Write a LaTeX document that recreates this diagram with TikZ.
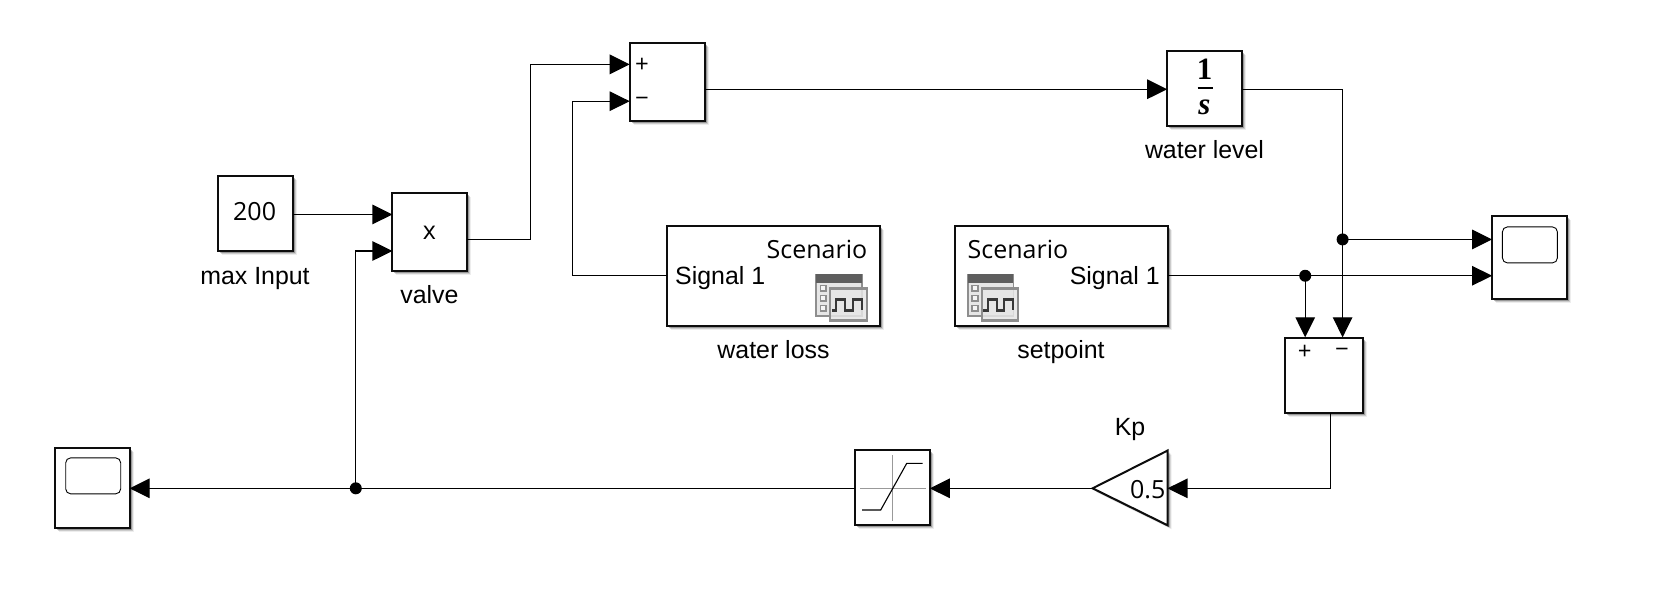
\documentclass[tikz,border=0pt]{standalone}
\usepackage{fontspec}
\newfontfamily\labfont{Liberation Sans}
\newfontfamily\blockfont{Open Sans}
\newfontfamily\intfont{Liberation Serif}
\usetikzlibrary{arrows.meta,shadows,calc}
\definecolor{icondark}{HTML}{5E5E5E}
\definecolor{icongray}{HTML}{8E8E8E}
\definecolor{iconlight}{HTML}{E6E6E6}
\tikzset{
  x=1pt,y=-.998pt,
  softshadow/.style={
    drop shadow={shadow xshift=4pt,shadow yshift=-4pt,fill=black,opacity=.07},
    drop shadow={shadow xshift=3pt,shadow yshift=-3pt,fill=black,opacity=.14},
    drop shadow={shadow xshift=2pt,shadow yshift=-2pt,fill=black,opacity=.25}},
  block/.style={draw=black!95,line width=2pt,fill=white,inner sep=0pt,outer sep=0pt,softshadow,rectangle},
  wire/.style={draw=black,line width=1.2pt},
  sig/.style={wire,-{Triangle[length=20pt,width=19.5pt]}},
  dot/.style={circle,fill=black,inner sep=0pt,minimum size=12pt},
  labeltext/.style={font=\labfont\fontsize{24.9}{30}\selectfont,anchor=base,inner sep=0pt},
  inner/.style={font=\blockfont\fontsize{25}{30}\selectfont,anchor=base,inner sep=0pt},
  sign/.style={font=\blockfont\fontsize{24}{26}\selectfont,inner sep=0pt},
  screen/.style={draw=black,line width=.9pt,rounded corners=5pt,fill=white,inner sep=0pt}
}
\newcommand{\scenarioicon}[2]{%
  \begin{scope}[shift={(#1,#2)},x=.3333pt,y=-.3333pt]
    \fill[iconlight] (0,0) rectangle (137,125);
    \draw[icongray,line width=1.6pt] (0,0) rectangle (137,125);
    \fill[icondark] (0,0) rectangle (137,25);
    \foreach \yy in {33,63,93}{\draw[icongray,line width=1.8pt,fill=iconlight!40!white] (13,\yy) rectangle (30,\yy+17);}
    \fill[iconlight,opacity=.85] (42,42) rectangle (152,138);
    \draw[icongray,line width=2.2pt] (42,42) rectangle (152,138);
    \draw[icondark!60!black,line width=2.2pt] (47,108)--(60,108)--(60,75)--(87,75)--(87,108)--(110,108)--(110,75)--(137,75)--(137,108);
  \end{scope}}
\begin{document}
\begin{tikzpicture}
\useasboundingbox[fill=white] (0,0) rectangle (1657,592.18);

% blocks
\node[block,minimum width=75pt,minimum height=75.4pt] (maxinput) at (255,214) {};
\node[block,minimum width=75pt,minimum height=78pt] (valve) at (429.9,232.7) {};
\node[block,minimum width=75pt,minimum height=78pt] (suma) at (667.2,82.4) {};
\node[block,minimum width=75pt,minimum height=75pt] (integ) at (1204.7,88.6) {};
\node[block,minimum width=213pt,minimum height=100pt] (loss) at (773.5,276.3) {};
\node[block,minimum width=213pt,minimum height=100pt] (setp) at (1061,276.3) {};
\node[block,minimum width=75pt,minimum height=83pt] (scoper) at (1529.6,257.9) {};
\node[block,minimum width=78pt,minimum height=75.5pt] (sumb) at (1323.6,376.2) {};
\node[block,minimum width=75pt,minimum height=75pt] (sat) at (892.3,488.9) {};
\node[block,minimum width=75pt,minimum height=80pt] (scopel) at (92.1,488.8) {};

% gain triangle
\coordinate (gainapex) at (1092.6,489.3);
\coordinate (gainin) at (1167.5,489.3);
\draw[draw=black!95,line width=2pt,fill=white,softshadow,line join=miter] (gainapex)--(1167.5,451.5)--(1167.5,526.3)--cycle;

% block inner content
\node[inner] (t200) at (254.6,220.8) {200};
\node[inner] (tx) at (429.4,240) {x};
\node[sign] (splus) at (642,65.5) {+};
\node[sign] (sminus) at (642,102) {−};
\node[sign] (bplus) at (1304.7,353.5) {+};
\node[sign] (bminus) at (1342,353.5) {−};
\node[font=\intfont\bfseries\fontsize{31}{32}\selectfont,anchor=base,inner sep=0pt] (ione) at (1204.5,80) {1};
\draw[black,line width=1.9pt] (1197.5,88)--(1213,88);
\node[font=\intfont\bfseries\itshape\fontsize{31}{32}\selectfont,anchor=base,inner sep=0pt] (is) at (1204.5,115) {s};
\node[inner,anchor=base west] (lscen) at (766.5,259) {Scenario};
\node[labeltext,anchor=base west] (lsig) at (675,285) {Signal 1};
\node[inner,anchor=base west] (sscen) at (967.5,259) {Scenario};
\node[labeltext,anchor=base east] (ssig) at (1160,285) {Signal 1};
\scenarioicon{816.2}{275}
\scenarioicon{967.7}{275}
\node[inner,anchor=base east] (tgain) at (1165.5,499) {0.5};

% scope screens
\node[screen,minimum width=55pt,minimum height=36pt] (screenl) at (93.2,476.8) {};
\node[screen,minimum width=55pt,minimum height=36pt] (screenr) at (1529.9,245.4) {};

% saturation glyph
\draw[black!40,line width=.8pt] (892.3,456)--(892.3,521.7) (860,489.3)--(926,489.3);
\draw[black,line width=1.1pt] (862,511)--(880.7,511)--(906.7,464.3)--(922.7,464.3);

% labels
\node[labeltext] (lmax) at (255,284.6) {max Input};
\node[labeltext] (lvalve) at (429.4,304) {valve};
\node[labeltext] (lloss) at (773.5,359) {water loss};
\node[labeltext] (lset) at (1061,359) {setpoint};
\node[labeltext] (llevel) at (1204.5,159) {water level};
\node[labeltext] (lkp) at (1130,436) {Kp};

% ports and junctions
\coordinate (mo) at (maxinput.east |- 0,214.9);
\coordinate (vi1) at (valve.west |- 0,214.9);
\coordinate (vi2) at (valve.west |- 0,251.5);
\coordinate (vo) at (valve.east |- 0,239.9);
\coordinate (si1) at (suma.west |- 0,64.5);
\coordinate (si2) at (suma.west |- 0,101.4);
\coordinate (so) at (suma.east |- 0,89.4);
\coordinate (ii) at (integ.west |- 0,89.4);
\coordinate (io) at (integ.east |- 0,89.4);
\coordinate (bi1) at (1305.2,338);
\coordinate (bi2) at (1342.6,338);
\coordinate (bo) at (1330.5,414);
\coordinate (ri1) at (scoper.west |- 0,239.9);
\coordinate (ri2) at (scoper.west |- 0,276.3);
\coordinate (lo) at (loss.west);
\coordinate (seto) at (setp.east);
\coordinate (satin) at (sat.east |- gainapex);
\coordinate (satout) at (sat.west |- gainapex);
\coordinate (scin) at (scopel.east |- gainapex);
\node[dot] (ja) at (1342.6,239.9) {};
\node[dot] (jb) at (1305.2,276.3) {};
\node[dot] (jc) at (355.8,489.3) {};

% connectors
\draw[sig] (mo)--(vi1);
\draw[sig] (jc.center)--(jc.center |- vi2)--(vi2);
\draw[sig] (vo)--(530.5,239.9)--(530.5,64.5)--(si1);
\draw[sig] (lo)--(572.8,276.3)--(572.8,101.4)--(si2);
\draw[sig] (so)--(ii);
\draw[wire] (io)--(1342.6,89.4)--(ja.center);
\draw[sig] (ja.center)--(bi2);
\draw[sig] (ja.center)--(ri1);
\draw[sig] (seto)--(ri2);
\draw[sig] (jb.center)--(bi1);
\draw[sig] (bo)--(1330.5,489.3)--(gainin);
\draw[sig] (gainapex)--(satin);
\draw[wire] (satout)--(jc.center);
\draw[sig] (jc.center)--(scin);
\end{tikzpicture}
\end{document}
